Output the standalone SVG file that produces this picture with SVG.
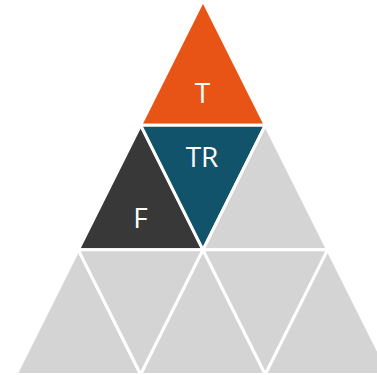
<svg xmlns="http://www.w3.org/2000/svg" width="377" height="375" viewBox="0 0 377 375">
<style>
.tri{stroke:#ffffff;stroke-width:3;stroke-linejoin:miter}
.gray{fill:#D4D4D4}
.lbl{font-family:"Open Sans","Liberation Sans",sans-serif;font-size:28px;fill:#ffffff;text-anchor:middle}
</style>
<rect width="377" height="375" fill="#ffffff"/>
<g id="node-T">
<polygon class="tri" fill="#E85415" points="203,0.5 140.67,125.17 265.33,125.17"/>
<text class="lbl" x="202.5" y="103">T</text>
</g>
<g id="node-F">
<polygon class="tri" fill="#383838" points="140.67,125.17 78.33,249.83 203,249.83"/>
<text class="lbl" x="140.5" y="228">F</text>
</g>
<g id="node-TR">
<polygon class="tri" fill="#11536A" points="140.67,125.17 265.33,125.17 203,249.83"/>
<text class="lbl" x="202" y="167">TR</text>
</g>
<g id="node-r2c3"><polygon class="tri gray" points="265.33,125.17 203,249.83 327.67,249.83"/></g>
<g id="node-r3c1"><polygon class="tri gray" points="78.33,249.83 16,374.5 140.67,374.5"/></g>
<g id="node-r3c2"><polygon class="tri gray" points="78.33,249.83 203,249.83 140.67,374.5"/></g>
<g id="node-r3c3"><polygon class="tri gray" points="203,249.83 140.67,374.5 265.33,374.5"/></g>
<g id="node-r3c4"><polygon class="tri gray" points="203,249.83 327.67,249.83 265.33,374.5"/></g>
<g id="node-r3c5"><polygon class="tri gray" points="327.67,249.83 265.33,374.5 390,374.5"/></g>
<g id="connectors"></g>
</svg>
